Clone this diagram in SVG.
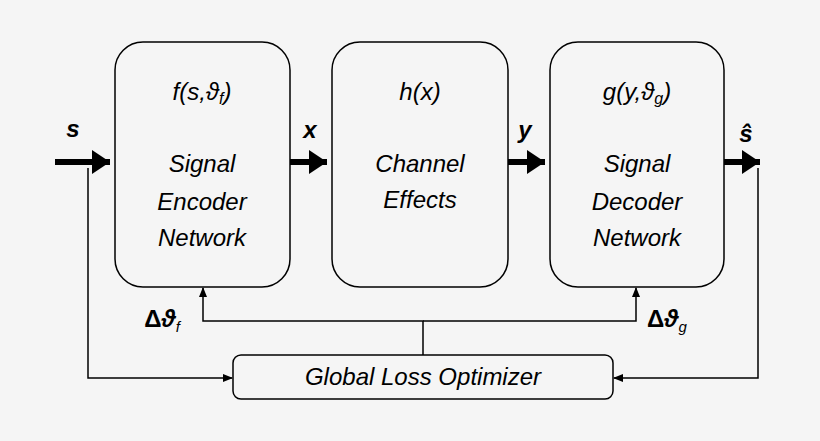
<svg xmlns="http://www.w3.org/2000/svg" width="820" height="441" viewBox="0 0 820 441">
<style>
.box{fill:#f5f5f5;stroke:#000;stroke-width:1.5}
.t{font-family:"Liberation Sans",Arial,sans-serif;font-style:italic;font-size:24px;fill:#000;text-anchor:middle}
.b{font-family:"Liberation Sans",Arial,sans-serif;font-style:italic;font-weight:bold;font-size:24px;fill:#000;text-anchor:middle}
.thin{fill:none;stroke:#000;stroke-width:1.5}
.thick{fill:none;stroke:#000;stroke-width:6}
</style>
<defs>
<marker id="big" markerWidth="4" markerHeight="4" refX="3" refY="2" orient="auto" markerUnits="strokeWidth"><path d="M0,0 L3,2 L0,4 z"/></marker>
<marker id="sm" markerWidth="10" markerHeight="8" refX="9" refY="4" orient="auto" markerUnits="userSpaceOnUse"><path d="M0,0 L10,4 L0,8 z"/></marker>
</defs>
<rect width="820" height="441" fill="#f5f5f5"/>
<g id="connectors">
<line class="thick" x1="55" y1="162" x2="110" y2="162" marker-end="url(#big)"/>
<line class="thick" x1="290" y1="162" x2="327" y2="162" marker-end="url(#big)"/>
<line class="thick" x1="508" y1="162" x2="545" y2="162" marker-end="url(#big)"/>
<line class="thick" x1="724" y1="162" x2="760" y2="162" marker-end="url(#big)"/>
<polyline class="thin" points="88,168 88,378 232,378" marker-end="url(#sm)"/>
<polyline class="thin" points="758,168 758,378 614,378" marker-end="url(#sm)"/>
<polyline class="thin" points="423,355 423,321 203,321 203,288" marker-end="url(#sm)"/>
<polyline class="thin" points="423,321 636,321 636,288" marker-end="url(#sm)"/>
</g>
<g id="encoder">
<rect class="box" x="115" y="42" width="175" height="245" rx="28"/>
<text class="t" x="202" y="100">f(s,ϑ<tspan font-size="16" dy="4">f</tspan><tspan dy="-4">)</tspan></text>
<text class="t" x="202" y="172">Signal</text>
<text class="t" x="202" y="210">Encoder</text>
<text class="t" x="202" y="246">Network</text>
</g>
<g id="channel">
<rect class="box" x="332" y="42" width="176" height="245" rx="28"/>
<text class="t" x="420" y="100">h(x)</text>
<text class="t" x="420" y="172">Channel</text>
<text class="t" x="420" y="208">Effects</text>
</g>
<g id="decoder">
<rect class="box" x="550" y="42" width="174" height="245" rx="28"/>
<text class="t" x="637" y="100">g(y,ϑ<tspan font-size="16" dy="4">g</tspan><tspan dy="-4">)</tspan></text>
<text class="t" x="637" y="172">Signal</text>
<text class="t" x="637" y="210">Decoder</text>
<text class="t" x="637" y="246">Network</text>
</g>
<g id="loss">
<rect class="box" x="233" y="355" width="380" height="44" rx="8"/>
<text class="t" x="423" y="385">Global Loss Optimizer</text>
</g>
<g id="labels">
<text class="b" x="73" y="137">s</text>
<text class="b" x="310" y="138">x</text>
<text class="b" x="525" y="138">y</text>
<text class="b" x="746" y="142" font-size="26">ŝ</text>
<text class="b" x="162" y="327"><tspan font-style="normal">Δ</tspan>ϑ<tspan font-size="15" dy="5" font-weight="normal">f</tspan></text>
<text class="b" x="667" y="327"><tspan font-style="normal">Δ</tspan>ϑ<tspan font-size="15" dy="5" font-weight="normal">g</tspan></text>
</g>
</svg>
